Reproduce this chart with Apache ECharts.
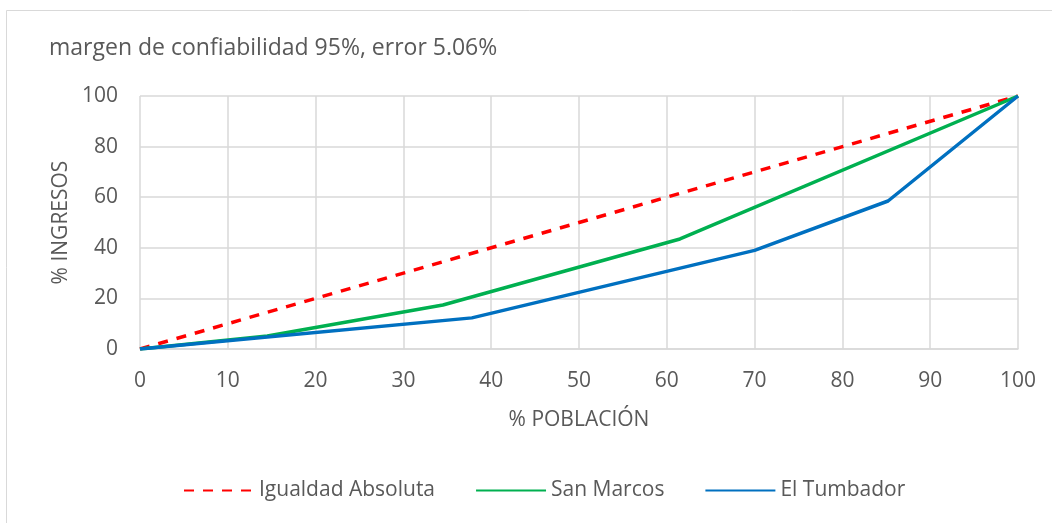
<!DOCTYPE html>
<html>
<head>
<meta charset="utf-8">
<script src="https://cdn.jsdelivr.net/npm/echarts@6/dist/echarts.min.js"></script>
<style>
  html, body { margin: 0; padding: 0; background: #fff; }
  #main { width: 1052px; height: 523px; }
</style>
</head>
<body>
<div id="main"></div>
<script>
// curvas de Lorenz: % poblacion vs % ingresos
var seriesNames = ['Igualdad Absoluta', 'San Marcos', 'El Tumbador'];
var igualdad = [[0, 0], [100, 100]];
var sanMarcos = [[0, 0], [14.5, 5.1], [34.5, 17.4], [61.5, 43.5], [100, 100]];
var elTumbador = [[0, 0], [14.5, 4.7], [37.8, 12.3], [70, 39], [85.2, 58.5], [100, 100]];
var xTicks = { min: 0, max: 100, interval: 10 };
var yTicks = { min: 0, max: 100, interval: 20 };

var myChart = echarts.init(document.getElementById('main'));
var fontFam = '"Open Sans", "Noto Sans", sans-serif';
var txt = '#595959';
var grid = '#d9d9d9';

var option = {
    backgroundColor: '#fff',
    animation: false,
    title: {
        text: 'margen de confiabilidad 95%, error 5.06%',
        left: 44,
        top: 32,
        textStyle: { fontFamily: fontFam, fontSize: 23, fontWeight: 'normal', color: txt }
    },
    graphic: [{
        type: 'rect',
        shape: { x: 6.5, y: 10.5, width: 1060, height: 530 },
        style: { fill: 'none', stroke: grid, lineWidth: 1 },
        silent: true
    }],
    legend: {
        bottom: 17,
        left: 178,
        itemWidth: 70,
        itemHeight: 4,
        itemGap: 40,
        textStyle: { fontFamily: fontFam, fontSize: 21, color: txt },
        itemStyle: { opacity: 0 },
        data: seriesNames
    },
    grid: { left: 140, right: 34, top: 96, bottom: 174 },
    xAxis: {
        type: 'value',
        min: xTicks.min, max: xTicks.max, interval: xTicks.interval,
        name: '% POBLACIÓN',
        nameLocation: 'middle',
        nameGap: 61,
        nameTextStyle: { fontFamily: fontFam, fontSize: 21, color: txt },
        axisLine: { lineStyle: { color: grid, width: 1.5 } },
        axisTick: { show: false },
        axisLabel: { fontFamily: fontFam, fontSize: 21, color: txt, margin: 22 },
        splitLine: { lineStyle: { color: grid, width: 1.5 } }
    },
    yAxis: {
        type: 'value',
        min: yTicks.min, max: yTicks.max, interval: yTicks.interval,
        name: '% INGRESOS',
        nameLocation: 'middle',
        nameGap: 66,
        nameTextStyle: { fontFamily: fontFam, fontSize: 21, color: txt },
        axisLine: { show: false },
        axisTick: { show: false },
        axisLabel: { fontFamily: fontFam, fontSize: 21, color: txt, margin: 22 },
        splitLine: { lineStyle: { color: grid, width: 1.5 } }
    },
    series: [
        {
            name: seriesNames[0], type: 'line', data: igualdad, symbol: 'none',
            lineStyle: { color: '#ff0000', width: 3.5, type: [10, 9] },
            itemStyle: { color: '#ff0000' }
        },
        {
            name: seriesNames[1], type: 'line', data: sanMarcos, symbol: 'none',
            lineStyle: { color: '#00b050', width: 3.5 },
            itemStyle: { color: '#00b050' }
        },
        {
            name: seriesNames[2], type: 'line', data: elTumbador, symbol: 'none',
            lineStyle: { color: '#0070c0', width: 3.5 },
            itemStyle: { color: '#0070c0' }
        }
    ]
};

myChart.setOption(option);
</script>
</body>
</html>
